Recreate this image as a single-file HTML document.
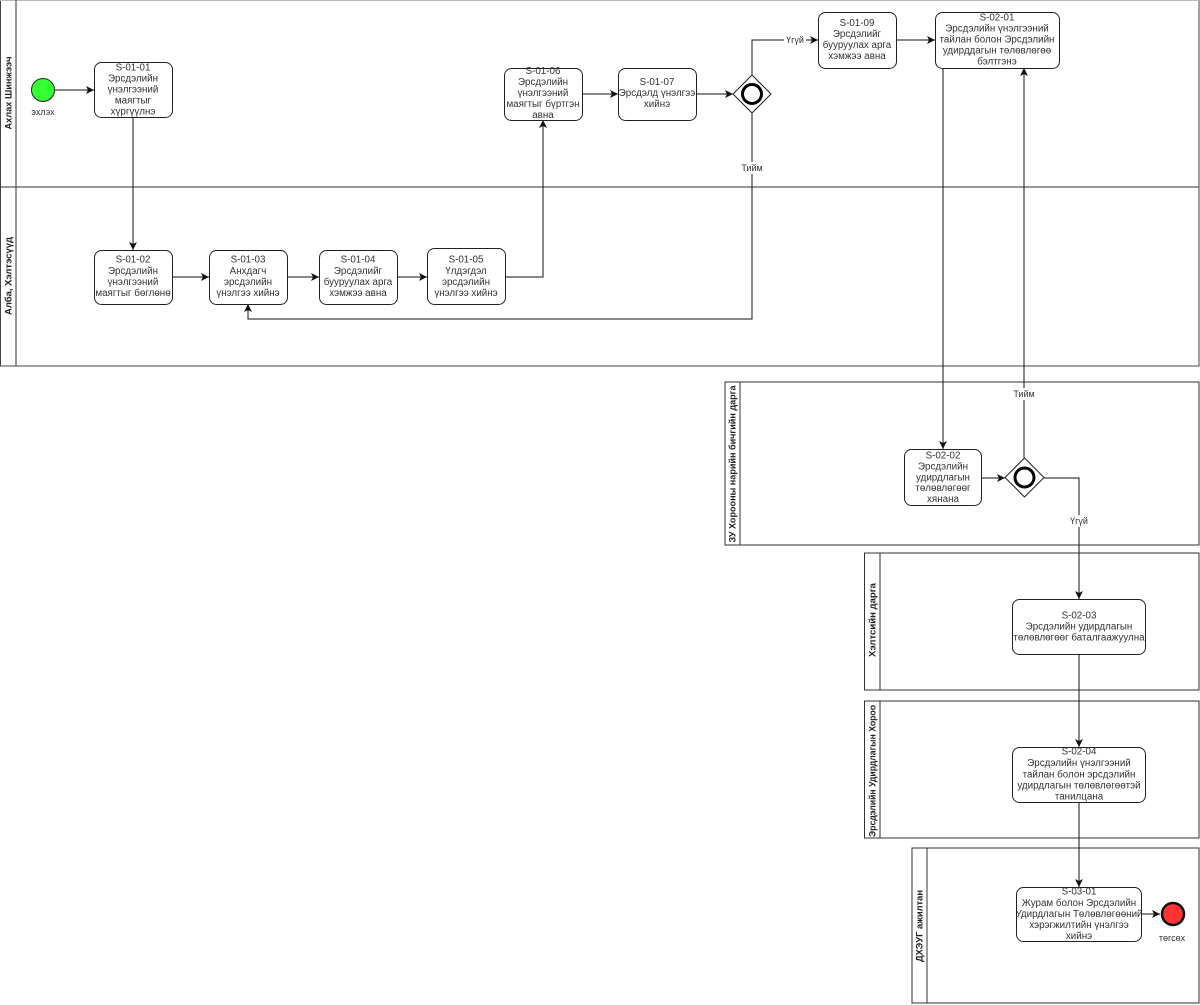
<!DOCTYPE html>
<html><head><meta charset="utf-8"><style>
html,body{margin:0;padding:0;background:#fff;}
svg{display:block;}
text{font-family:"Liberation Sans",Arial,sans-serif;}
.t{font-size:9.8px;fill:#333;text-anchor:middle;dominant-baseline:central;}
.h{font-size:9.5px;font-weight:bold;fill:#222;text-anchor:middle;dominant-baseline:central;}
.lb{font-size:9px;fill:#333;text-anchor:middle;dominant-baseline:central;}
.box{fill:#fff;stroke:#222;stroke-width:1;}
.pool{fill:none;stroke:#333;stroke-width:1;}
.ln{fill:none;stroke:#111;stroke-width:1;}
</style></head><body>
<svg width="1200" height="1005" viewBox="0 0 1200 1005" xmlns="http://www.w3.org/2000/svg">
<defs>
<marker id="a" markerWidth="9" markerHeight="8" refX="8" refY="4" orient="auto" markerUnits="userSpaceOnUse">
<path d="M0,0 L8,4 L0,8 L2,4 z" fill="#111"/>
</marker>
</defs>

<!-- Pool 1 -->
<rect x="0.5" y="0.5" width="1198.5" height="365.5" class="pool" style="stroke:#444"/>
<line x1="0" y1="0.5" x2="1199" y2="0.5" stroke="#bbb"/>
<line x1="16" y1="0" x2="16" y2="366" class="pool"/>
<line x1="0" y1="187" x2="1199" y2="187" class="pool"/>
<text class="h" transform="translate(9,93) rotate(-90)" textLength="73" lengthAdjust="spacingAndGlyphs">Ахлах Шинжээч</text>
<text class="h" transform="translate(9,276) rotate(-90)" textLength="78" lengthAdjust="spacingAndGlyphs">Алба, Хэлтэсүүд</text>

<!-- Pool 2 -->
<rect x="725" y="382" width="474" height="163" class="pool"/>
<line x1="740" y1="382" x2="740" y2="545" class="pool"/>
<text class="h" transform="translate(733,464) rotate(-90)" textLength="157" lengthAdjust="spacingAndGlyphs">ЗУ Хорооны нарийн бичгийн дарга</text>

<!-- Pool 3 -->
<rect x="864.5" y="553" width="334.5" height="137" class="pool"/>
<line x1="880" y1="553" x2="880" y2="690" class="pool"/>
<text class="h" transform="translate(873,620) rotate(-90)" textLength="74" lengthAdjust="spacingAndGlyphs">Хэлтсийн дарга</text>

<!-- Pool 4 -->
<rect x="864.5" y="701" width="334.5" height="137" class="pool"/>
<line x1="880" y1="701" x2="880" y2="838" class="pool"/>
<text class="h" transform="translate(873,771) rotate(-90)" textLength="132" lengthAdjust="spacingAndGlyphs">Эрсдэлийн Удирдлагын Хороо</text>

<!-- Pool 5 -->
<rect x="912" y="848" width="287" height="155" class="pool"/>
<line x1="927" y1="848" x2="927" y2="1003" class="pool"/>
<text class="h" transform="translate(920,926) rotate(-90)" textLength="72" lengthAdjust="spacingAndGlyphs">ДХЭУГ ажилтан</text>

<!-- Connectors -->
<path d="M55,90 L94,90" class="ln" marker-end="url(#a)"/>
<path d="M133,117 L133,250" class="ln" marker-end="url(#a)"/>
<path d="M172,277 L209,277" class="ln" marker-end="url(#a)"/>
<path d="M287,277 L319,277" class="ln" marker-end="url(#a)"/>
<path d="M397,277 L427,277" class="ln" marker-end="url(#a)"/>
<path d="M506,277 L543,277 L543,120" class="ln" marker-end="url(#a)"/>
<path d="M582,94 L618,94" class="ln" marker-end="url(#a)"/>
<path d="M696,94 L733,94" class="ln" marker-end="url(#a)"/>
<path d="M752,75 L752,40 L818,40" class="ln" marker-end="url(#a)"/>
<path d="M752,113 L752,319 L248,319 L248,304" class="ln" marker-end="url(#a)"/>
<path d="M896,40 L935,40" class="ln" marker-end="url(#a)"/>
<path d="M943,68 L943,449" class="ln" marker-end="url(#a)"/>
<path d="M981,478 L1005,478" class="ln" marker-end="url(#a)"/>
<path d="M1024,458 L1024,68" class="ln" marker-end="url(#a)"/>
<path d="M1044,478 L1079,478 L1079,599" class="ln" marker-end="url(#a)"/>
<path d="M1079,654 L1079,747" class="ln" marker-end="url(#a)"/>
<path d="M1079,802 L1079,887" class="ln" marker-end="url(#a)"/>
<path d="M1141,914 L1160,914" class="ln" marker-end="url(#a)"/>

<!-- edge labels -->
<rect x="784" y="34" width="22" height="12" fill="#fff"/>
<text class="lb" x="795" y="40">Үгүй</text>
<rect x="738" y="162" width="28" height="12" fill="#fff"/>
<text class="lb" x="752" y="168">Тийм</text>
<rect x="1010" y="388" width="28" height="12" fill="#fff"/>
<text class="lb" x="1024" y="394">Тийм</text>
<rect x="1068" y="515" width="22" height="12" fill="#fff"/>
<text class="lb" x="1079" y="521">Үгүй</text>

<!-- Start / End -->
<circle cx="43" cy="90" r="11.5" fill="#33ff33" stroke="#222" stroke-width="1"/>
<text class="lb" x="43" y="112">эхлэх</text>
<circle cx="1173" cy="914" r="11" fill="#ff3333" stroke="#111" stroke-width="2.5"/>
<text class="lb" x="1172" y="938">төгсөх</text>

<!-- Gateways -->
<path d="M752,75 L771,94 L752,113 L733,94 z" fill="#fff" stroke="#222"/>
<circle cx="752" cy="94" r="9.5" fill="none" stroke="#000" stroke-width="3"/>
<path d="M1024.5,458 L1044,477.5 L1024.5,497 L1005,477.5 z" fill="#fff" stroke="#222"/>
<circle cx="1024.5" cy="477.5" r="9.5" fill="none" stroke="#000" stroke-width="3"/>

<!-- Tasks -->
<rect x="94.5" y="62.5" width="78" height="55" rx="7" class="box"/>
<text class="t" x="133" y="68">S-01-01</text>
<text class="t" x="133" y="79">Эрсдэлийн</text>
<text class="t" x="133" y="90">үнэлгээний</text>
<text class="t" x="133" y="101">маягтыг</text>
<text class="t" x="133" y="112">хүргүүлнэ</text>

<rect x="94.5" y="250.5" width="78" height="54" rx="7" class="box"/>
<text class="t" x="133" y="260">S-01-02</text>
<text class="t" x="133" y="271.5">Эрсдэлийн</text>
<text class="t" x="133" y="282.5">үнэлгээний</text>
<text class="t" x="133" y="293.5">маягтыг бөглөнө</text>

<rect x="209.5" y="250.5" width="78" height="54" rx="7" class="box"/>
<text class="t" x="248" y="260">S-01-03</text>
<text class="t" x="248" y="271.5">Анхдагч</text>
<text class="t" x="248" y="282.5">эрсдэлийн</text>
<text class="t" x="248" y="293.5">үнэлгээ хийнэ</text>

<rect x="319.5" y="250.5" width="78" height="54" rx="7" class="box"/>
<text class="t" x="358" y="260">S-01-04</text>
<text class="t" x="358" y="271.5">Эрсдэлийг</text>
<text class="t" x="358" y="282.5">бууруулах арга</text>
<text class="t" x="358" y="293.5">хэмжээ авна</text>

<rect x="427.5" y="248.5" width="78" height="56" rx="7" class="box"/>
<text class="t" x="466" y="260">S-01-05</text>
<text class="t" x="466" y="271.5">Үлдэгдэл</text>
<text class="t" x="466" y="282.5">эрсдэлийн</text>
<text class="t" x="466" y="293.5">үнэлгээ хийнэ</text>

<rect x="504.5" y="68.5" width="78" height="52" rx="7" class="box"/>
<text class="t" x="543" y="71.5">S-01-06</text>
<text class="t" x="543" y="82.5">Эрсдэлийн</text>
<text class="t" x="543" y="93.5">үнэлгээний</text>
<text class="t" x="543" y="104.5">маягтыг бүртгэн</text>
<text class="t" x="543" y="115.5">авна</text>

<rect x="618.5" y="68.5" width="78" height="52" rx="7" class="box"/>
<text class="t" x="657" y="82.5">S-01-07</text>
<text class="t" x="657" y="93.5">Эрсдэлд үнэлгээ</text>
<text class="t" x="657" y="104.5">хийнэ</text>

<rect x="818.5" y="12.5" width="78" height="56" rx="7" class="box"/>
<text class="t" x="857" y="23.5">S-01-09</text>
<text class="t" x="857" y="34.5">Эрсдэлийг</text>
<text class="t" x="857" y="45.5">бууруулах арга</text>
<text class="t" x="857" y="56.5">хэмжээ авна</text>

<rect x="935.5" y="12.5" width="124" height="56" rx="7" class="box"/>
<text class="t" x="997" y="18">S-02-01</text>
<text class="t" x="997" y="29">Эрсдэлийн үнэлгээний</text>
<text class="t" x="997" y="40">тайлан болон Эрсдэлийн</text>
<text class="t" x="997" y="51">удирддагын төлөвлөгөө</text>
<text class="t" x="997" y="62">бэлтгэнэ</text>

<rect x="904.5" y="449.5" width="77" height="56" rx="7" class="box"/>
<text class="t" x="943" y="456">S-02-02</text>
<text class="t" x="943" y="467">Эрсдэлийн</text>
<text class="t" x="943" y="478">удирдлагын</text>
<text class="t" x="943" y="488.5">төлөвлөгөөг</text>
<text class="t" x="943" y="499.5">хянана</text>

<rect x="1012.5" y="599.5" width="133" height="55" rx="7" class="box"/>
<text class="t" x="1079" y="616">S-02-03</text>
<text class="t" x="1079" y="627">Эрсдэлийн удирдлагын</text>
<text class="t" x="1079" y="638">төлөвлөгөөг баталгаажуулна</text>

<rect x="1012.5" y="747.5" width="133" height="55" rx="7" class="box"/>
<text class="t" x="1079" y="752">S-02-04</text>
<text class="t" x="1079" y="763.5">Эрсдэлийн үнэлгээний</text>
<text class="t" x="1079" y="775">тайлан болон эрсдэлийн</text>
<text class="t" x="1079" y="786">удирдлагын төлөвлөгөөтэй</text>
<text class="t" x="1079" y="797">танилцана</text>

<rect x="1016.5" y="887.5" width="125" height="54" rx="7" class="box"/>
<text class="t" x="1079" y="892">S-03-01</text>
<text class="t" x="1079" y="903.5">Журам болон Эрсдэлийн</text>
<text class="t" x="1079" y="914.5">Удирдлагын Төлөвлөгөөний</text>
<text class="t" x="1079" y="925.5">хэрэгжилтийн үнэлгээ</text>
<text class="t" x="1079" y="936.5">хийнэ</text>
</svg>
</body></html>
